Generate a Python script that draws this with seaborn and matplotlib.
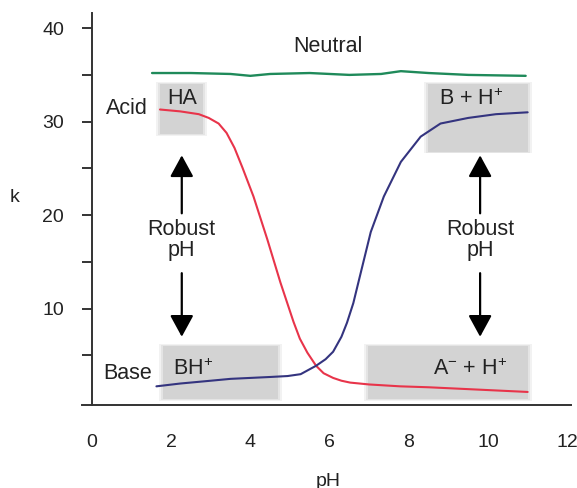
import matplotlib
matplotlib.use("Agg")
import matplotlib.pyplot as plt
import seaborn as sns
import pandas as pd
from matplotlib.patches import Rectangle

# ---- data ----
neutral_ph = [1.52, 2.5, 3.5, 4.0, 4.5, 5.5, 6.5, 7.3, 7.8, 8.5, 9.5, 10.95]
neutral_k = [35.2, 35.2, 35.1, 34.9, 35.1, 35.2, 35.0, 35.1, 35.4, 35.2, 35.0, 34.9]

acid_ph = [1.72, 2.23, 2.7, 2.95, 3.2, 3.4, 3.6, 3.8, 4.08, 4.43, 4.76, 5.09, 5.25,
           5.44, 5.66, 5.85, 6.09, 6.3, 6.52, 7.0, 7.78, 8.5, 9.5, 11.0]
acid_k = [31.3, 31.1, 30.8, 30.4, 29.8, 28.8, 27.2, 25.1, 22.0, 17.4, 12.8, 8.6, 6.8,
          5.3, 3.9, 3.1, 2.6, 2.3, 2.1, 1.9, 1.7, 1.6, 1.4, 1.1]

base_ph = [1.63, 2.23, 3.0, 3.5, 4.5, 4.94, 5.27, 5.66, 5.9, 6.09, 6.3, 6.44, 6.6,
           6.75, 7.04, 7.37, 7.8, 8.3, 8.8, 9.5, 10.2, 11.0]
base_k = [1.7, 2.0, 2.3, 2.5, 2.7, 2.8, 3.0, 3.9, 4.6, 5.4, 7.0, 8.5, 10.6,
          13.2, 18.2, 22.0, 25.7, 28.4, 29.8, 30.4, 30.8, 31.0]

x_ticks = [0, 2, 4, 6, 8, 10, 12]
y_ticks = [10, 20, 30, 40]

# ---- figure ----
sns.set_theme(style="white")
plt.rcParams['font.family'] = ['Liberation Sans', 'DejaVu Sans']
plt.rcParams['mathtext.fontset'] = 'custom'
plt.rcParams['mathtext.rm'] = 'Liberation Sans'
plt.rcParams['mathtext.it'] = 'Liberation Sans'

fig = plt.figure(figsize=(5.77, 4.88), dpi=100)
ax = fig.add_axes([0.142, 0.170, 0.848, 0.803])

# grey shaded regions (soft edges)
boxes = [(1.72, 28.7, 1.09, 5.3), (1.8, 0.3, 2.9, 5.7),
         (8.48, 26.8, 2.52, 7.2), (6.96, 0.3, 4.04, 5.7)]
for (bx, by, bw, bh) in boxes:
    for pad, a in [(0.10, 0.22), (0.05, 0.3), (0.0, 0.5)]:
        ax.add_patch(Rectangle((bx - pad, by - pad * 2.0), bw + 2 * pad, bh + 4 * pad,
                               facecolor="#c4c4c4", edgecolor="none", alpha=a, zorder=0))

df_n = pd.DataFrame({"pH": neutral_ph, "k": neutral_k})
df_a = pd.DataFrame({"pH": acid_ph, "k": acid_k})
df_b = pd.DataFrame({"pH": base_ph, "k": base_k})
sns.lineplot(data=df_n, x="pH", y="k", ax=ax, color="#1f8a5a", lw=1.7, sort=False, estimator=None)
sns.lineplot(data=df_a, x="pH", y="k", ax=ax, color="#e8344a", lw=1.5, sort=False, estimator=None)
sns.lineplot(data=df_b, x="pH", y="k", ax=ax, color="#34347f", lw=1.5, sort=False, estimator=None)

ax.set_xlim(-0.25, 12.1)
ax.set_ylim(-0.3, 41.6)

# spines
for s in ["top", "right"]:
    ax.spines[s].set_visible(False)
ax.spines["left"].set_position(("data", 0))
ax.spines["left"].set_bounds(-0.3, 41.6)
for s in ["left", "bottom"]:
    ax.spines[s].set_color("#333333")
    ax.spines[s].set_linewidth(1.4)

ax.set_xticks(x_ticks)
ax.set_xticklabels([str(v) for v in x_ticks])
ax.set_yticks(y_ticks)
ax.set_yticklabels([str(v) for v in y_ticks])
ax.set_yticks([5, 15, 25, 35], minor=True)
ax.tick_params(axis="x", length=0, pad=21, labelsize=14, colors="#222222")
ax.tick_params(axis="y", which="both", direction="out", length=7, width=1.4,
               color="#333333", pad=13, labelsize=14, labelcolor="#222222", left=True)

ax.set_xlabel("pH", fontsize=14, color="#222222")
ax.xaxis.set_label_coords((328 - 82) / 489, (405 - 481) / 392)
ax.xaxis.label.set_va("center")
ax.set_ylabel("k", fontsize=14, rotation=0, color="#222222", va="center", ha="center")
ax.yaxis.set_label_coords((15 - 82) / 489, (405 - 197) / 392)

tc = "#222222"
fs = 15.5
ax.text(5.95, 38.0, "Neutral", ha="center", va="center", fontsize=fs, color=tc)
ax.text(1.42, 31.4, "Acid", ha="right", va="center", fontsize=fs, color=tc)
ax.text(1.52, 3.1, "Base", ha="right", va="center", fontsize=fs, color=tc)
ax.text(2.27, 32.5, "HA", ha="center", va="center", fontsize=fs, color=tc)
ax.text(2.05, 3.5, r"BH$^{+}$", ha="left", va="center", fontsize=fs, color=tc)
ax.text(8.75, 32.4, r"B + H$^{+}$", ha="left", va="center", fontsize=fs, color=tc)
ax.text(8.6, 3.5, r"A$^{-}$ + H$^{+}$", ha="left", va="center", fontsize=fs, color=tc)

for xc in (2.27, 9.8):
    ax.text(xc, 17.4, "Robust\npH", ha="center", va="center", fontsize=fs,
            color=tc, linespacing=1.0)
    ax.annotate("", xy=(xc, 26.4), xytext=(xc, 20.2),
                arrowprops=dict(arrowstyle="-|>,head_length=1.1,head_width=0.6",
                                color="black", lw=1.6, shrinkA=0, shrinkB=0))
    ax.annotate("", xy=(xc, 7.0), xytext=(xc, 13.8),
                arrowprops=dict(arrowstyle="-|>,head_length=1.1,head_width=0.6",
                                color="black", lw=1.6, shrinkA=0, shrinkB=0))

fig.savefig("out.png", dpi=100)
